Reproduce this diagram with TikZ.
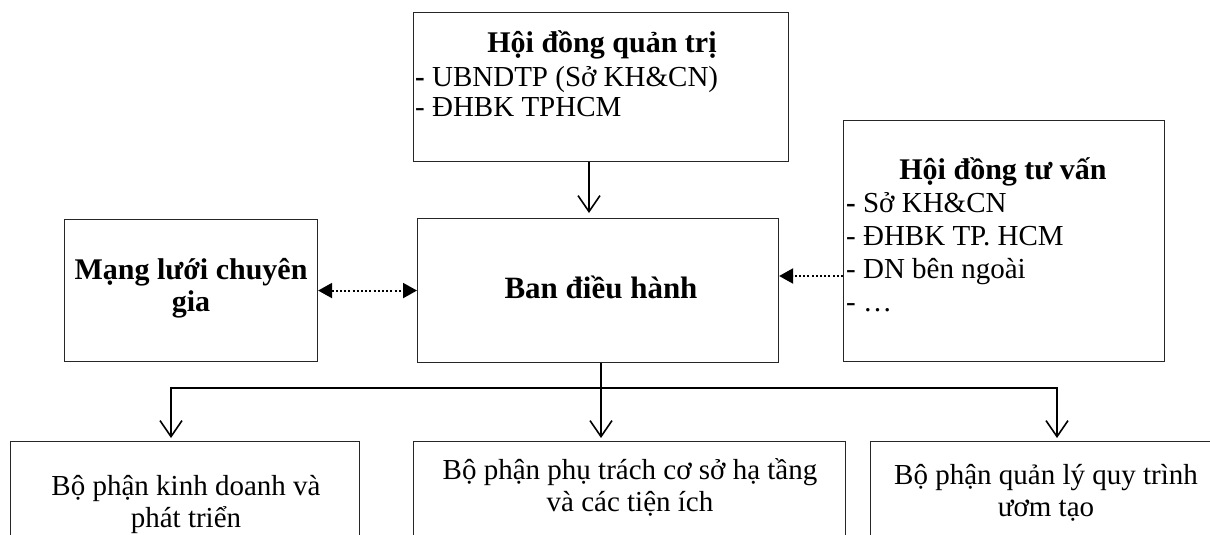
\documentclass[tikz,border=0pt]{standalone}
\usepackage{fontspec}
\setmainfont{Liberation Serif}
\usetikzlibrary{arrows.meta}
\begin{document}
\begin{tikzpicture}[x=1pt,y=-1pt,
  box/.style={draw=black!85, line width=1.1pt, inner sep=0pt, anchor=north west},
  body/.style={inner sep=0pt, font=\fontsize{29}{33}\selectfont},
  head/.style={inner sep=0pt, font=\fontsize{30}{34}\selectfont\bfseries},
  wire/.style={line width=1.8pt},
  flow/.style={wire, -{Straight Barb[length=16pt,width=22pt,line width=1.6pt]}},
  dots/.style={line width=2pt, dash pattern=on 2pt off 2.2pt},
  twoway/.style={dots, {Triangle[length=14pt,width=15pt]}-{Triangle[length=14pt,width=15pt]}},
  oneway/.style={dots, -{Triangle[length=14pt,width=15pt]}}]
\clip (0,0) rectangle (1210,535);
\fill[white] (0,0) rectangle (1210,535);

% boxes
\node[box, minimum width=375pt, minimum height=149pt] (qt) at (413,12) {};
\node[box, minimum width=361pt, minimum height=144pt] (bdh) at (417,218) {};
\node[box, minimum width=253pt, minimum height=142pt] (ml) at (64,219) {};
\node[box, minimum width=321pt, minimum height=241pt] (tv) at (843,120) {};
\node[box, minimum width=349pt, minimum height=130pt] (b1) at (10,441) {};
\node[box, minimum width=432pt, minimum height=130pt] (b2) at (413,441) {};
\node[box, minimum width=352pt, minimum height=130pt] (b3) at (870,441) {};

% Hội đồng quản trị
\node[head, anchor=base] (qtT) at (602,53) {Hội đồng quản trị};
\node[body, anchor=base west] (qt1) at (415,86) {\textbf{-} UBNDTP (Sở KH\&CN)};
\node[body, anchor=base west] (qt2) at (415,116) {- ĐHBK TPHCM};

% Hội đồng tư vấn
\node[head, anchor=base] (tvT) at (1003,179) {Hội đồng tư vấn};
\node[body, anchor=base west] (tv1) at (846,212) {\textbf{-} Sở KH\&CN};
\node[body, anchor=base west] (tv2) at (846,245) {- ĐHBK TP. HCM};
\node[body, anchor=base west] (tv3) at (846,278) {- DN bên ngoài};
\node[body, anchor=base west] (tv4) at (846,311) {- …};

% Mạng lưới chuyên gia / Ban điều hành
\node[head, anchor=base] (ml1) at (191,279) {Mạng lưới chuyên};
\node[head, anchor=base] (ml2) at (191,311) {gia};
\node[head, anchor=base, font=\fontsize{31}{35}\selectfont\bfseries] (bdhT) at (601,298) {Ban điều hành};

% departments
\node[body, anchor=base] (b1a) at (186,495) {Bộ phận kinh doanh và};
\node[body, anchor=base] (b1b) at (186,527) {phát triển};
\node[body, anchor=base] (b2a) at (630,479) {Bộ phận phụ trách cơ sở hạ tầng};
\node[body, anchor=base] (b2b) at (630,511) {và các tiện ích};
\node[body, anchor=base] (b3a) at (1046,484) {Bộ phận quản lý quy trình};
\node[body, anchor=base] (b3b) at (1046,516) {ươm tạo};

% connectors
\coordinate (down) at (589,213);
\draw[flow] (qt.south -| down) -- (down);
\draw[twoway] (ml.east) -- (bdh.west);
\coordinate (tvlink) at (843,276);
\draw[oneway] (tvlink) -- (tvlink -| bdh.east);

\coordinate (split) at (601,388);
\coordinate (d1) at (171,438);
\coordinate (d2) at (601,438);
\coordinate (d3) at (1057,438);
\draw[wire] (bdh.south -| split) -- (split);
\draw[flow] (split) -- (d2);
\draw[flow] (split) -| (d1);
\draw[flow] (split) -| (d3);
\end{tikzpicture}
\end{document}
